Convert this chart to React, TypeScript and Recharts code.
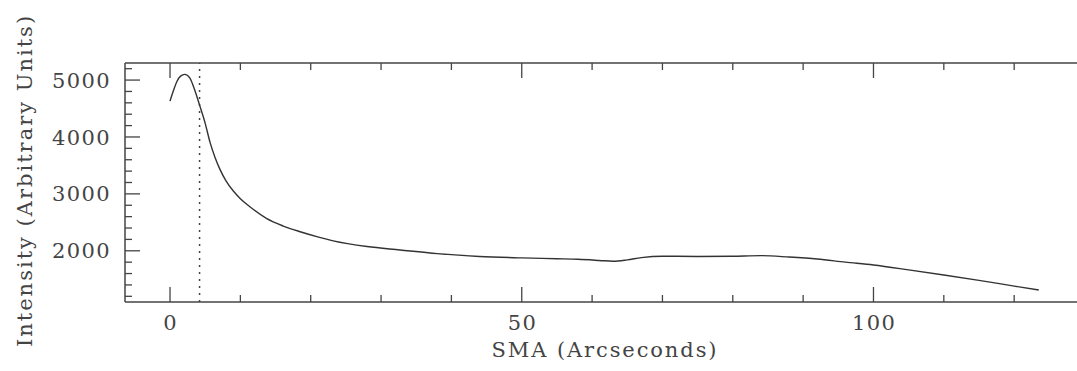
import React from "react";
import { LineChart, Line, XAxis, YAxis, ReferenceLine } from "recharts";

// surface brightness profile
const sma = [
  0, 0.5, 1, 1.5, 2.1, 2.8, 3.5, 4.2, 5, 5.7, 6.4, 7.1, 8, 9, 10, 11.4, 13.7,
  16.1, 18.5, 21, 23.2, 28, 32.7, 38, 44, 50, 55, 58, 61, 63, 65, 67, 70, 75,
  80, 84, 88, 92, 96, 100, 105, 110, 115, 120, 123.5,
];
const intensity = [
  4630, 4820, 4980, 5070, 5100, 5040, 4830, 4560, 4240, 3900, 3640, 3430, 3220,
  3050, 2915, 2770, 2570, 2435, 2335, 2245, 2175, 2075, 2015, 1950, 1900, 1875,
  1860, 1850, 1830, 1815, 1840, 1880, 1905, 1900, 1905, 1915, 1890, 1855, 1800,
  1750, 1665, 1575, 1480, 1380, 1310,
];

const xTicks = [0, 10, 20, 30, 40, 50, 60, 70, 80, 90, 100, 110, 120];
const yTicks = [
  1200, 1400, 1600, 1800, 2000, 2200, 2400, 2600, 2800, 3000, 3200, 3400, 3600,
  3800, 4000, 4200, 4400, 4600, 4800, 5000, 5200,
];
const cutoff = 4.2;

const data = sma.map((s, i) => ({ sma: s, intensity: intensity[i] }));

const INK = "#444";
const FONT = "'DejaVu Serif', serif";

const isMajorX = (v: number) => v % 50 === 0;
const isMajorY = (v: number) => v % 1000 === 0;

const BottomTick = (props: any) => {
  const { x, y, payload } = props;
  const v = payload.value;
  const major = isMajorX(v);
  return (
    <g>
      <line x1={x} x2={x} y1={y} y2={y - (major ? 15 : 7)} stroke={INK} strokeWidth={1.3} />
      {major && (
        <text x={x + 0.7} y={y + 28} textAnchor="middle" fill={INK} fontFamily={FONT} fontSize={21} letterSpacing={1.4}>
          {v}
        </text>
      )}
    </g>
  );
};

const TopTick = (props: any) => {
  const { x, y, payload } = props;
  const major = isMajorX(payload.value);
  return <line x1={x} x2={x} y1={y} y2={y + (major ? 15 : 7)} stroke={INK} strokeWidth={1.3} />;
};

const LeftTick = (props: any) => {
  const { x, y, payload } = props;
  const v = payload.value;
  const major = isMajorY(v);
  return (
    <g>
      <line x1={x} x2={x + (major ? 15 : 7)} y1={y} y2={y} stroke={INK} strokeWidth={1.3} />
      {major && (
        <text x={x - 14} y={y} dy="0.36em" textAnchor="end" fill={INK} fontFamily={FONT} fontSize={21} letterSpacing={1.4}>
          {v}
        </text>
      )}
    </g>
  );
};

const RightTick = (props: any) => {
  const { x, y, payload } = props;
  const major = isMajorY(payload.value);
  return <line x1={x} x2={x - (major ? 15 : 7)} y1={y} y2={y} stroke={INK} strokeWidth={1.3} />;
};

const XTitle = (props: any) => {
  const vb = props.viewBox || { x: 125, width: 956 };
  return (
    <text x={vb.x + vb.width / 2 + 2} y={357} textAnchor="middle" fill={INK} fontFamily={FONT} fontSize={21} letterSpacing={1.9}>
      SMA (Arcseconds)
    </text>
  );
};

const YTitle = (props: any) => {
  const vb = props.viewBox || { y: 63, height: 239 };
  const cx = 25;
  const cy = vb.y + vb.height / 2 - 2;
  return (
    <text
      x={cx}
      y={cy}
      transform={`rotate(-90 ${cx} ${cy})`}
      textAnchor="middle"
      dominantBaseline="central"
      fill={INK}
      fontFamily={FONT}
      fontSize={21}
      letterSpacing={2}
    >
      Intensity (Arbitrary Units)
    </text>
  );
};

export default function App() {
  return (
    <div style={{ position: "absolute", left: 0, top: 0, width: 1077, height: 371, overflow: "hidden", background: "#fff" }}>
      <LineChart width={1082} height={371} data={data} margin={{ top: 62, right: 0, bottom: 0, left: 0 }}>
        <XAxis
          dataKey="sma"
          type="number"
          domain={[-6.4, 129.5]}
          ticks={xTicks}
          interval={0}
          tickSize={0}
          tickMargin={0}
          tick={<BottomTick />}
          axisLine={{ stroke: INK, strokeWidth: 1.5 }}
          height={69}
          label={<XTitle />}
        />
        <XAxis
          xAxisId="top"
          orientation="top"
          dataKey="sma"
          type="number"
          domain={[-6.4, 129.5]}
          ticks={xTicks}
          interval={0}
          tickSize={0}
          tickMargin={0}
          tick={<TopTick />}
          axisLine={{ stroke: INK, strokeWidth: 1.5 }}
          height={1}
        />
        <YAxis
          type="number"
          domain={[1100, 5300]}
          ticks={yTicks}
          interval={0}
          tickSize={0}
          tickMargin={0}
          tick={<LeftTick />}
          axisLine={{ stroke: INK, strokeWidth: 1.5 }}
          width={125}
          label={<YTitle />}
        />
        <YAxis
          yAxisId="right"
          orientation="right"
          type="number"
          domain={[1100, 5300]}
          ticks={yTicks}
          interval={0}
          tickSize={0}
          tickMargin={0}
          tick={<RightTick />}
          axisLine={false}
          width={1}
        />
        <ReferenceLine x={cutoff} stroke={INK} strokeWidth={1.5} strokeDasharray="2 5" />
        <Line
          type="monotone"
          dataKey="intensity"
          stroke="#333"
          strokeWidth={1.4}
          dot={false}
          isAnimationActive={false}
        />
      </LineChart>
    </div>
  );
}
